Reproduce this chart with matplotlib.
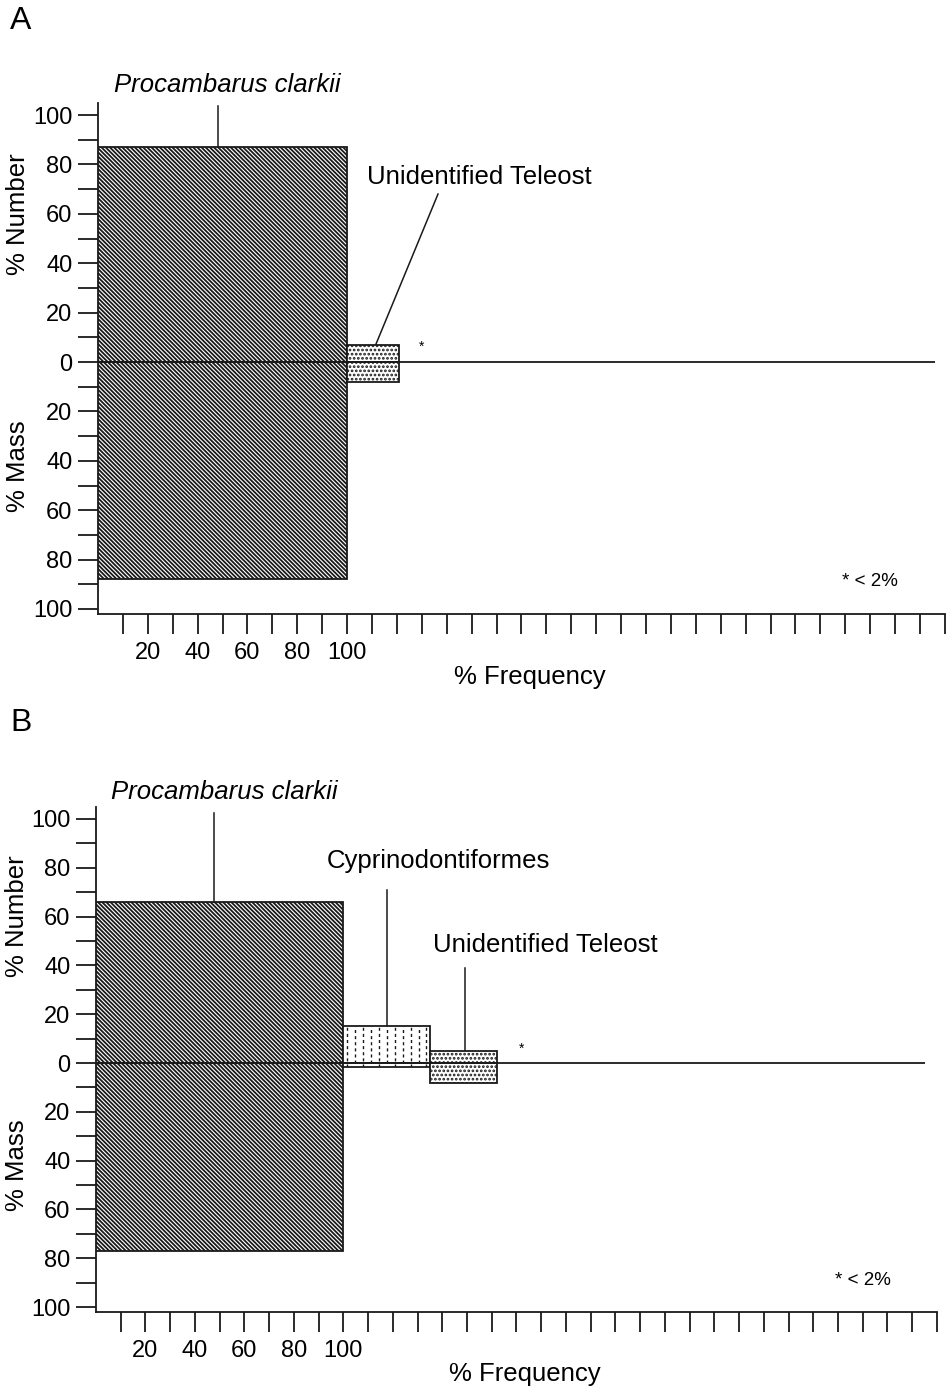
import matplotlib
matplotlib.use("Agg")
import matplotlib.pyplot as plt
import numpy as np

plt.rcParams['font.family'] = ['Liberation Sans', 'DejaVu Sans']
plt.rcParams['hatch.linewidth'] = 1.3

# Panel A values
prey_a = ['Procambarus clarkii', 'Unidentified Teleost']
freq_a = [100, 21]
number_a = [87, 7]
mass_a = [88, 8]
label_xy_a = [(52, 112), (153, 75)]
leader_a = [(48, 103.5, 48), (136.5, 68, 111.5)]   # x top, y top, x at bar
star_a = (130, 6)

# Panel B values
prey_b = ['Procambarus clarkii', 'Cyprinodontiformes', 'Unidentified Teleost']
freq_b = [100, 35, 27]
number_b = [66, 15, 5]
mass_b = [77, 1.5, 8]
label_xy_b = [(52, 111), (138.5, 82.6), (181.8, 48.3)]
leader_b = [(47.8, 102.6, 47.8), (117.8, 70.7, 117.8), (149, 38.9, 149)]
star_b = (172, 6)

note_xy = (310, -89)
xtick_vals = list(range(10, 341, 10))
xtick_labeled = [20, 40, 60, 80, 100]
ytick_vals = list(range(-100, 101, 10))

hatches = {'Procambarus clarkii': '\\' * 8,
           'Cyprinodontiformes': '',
           'Unidentified Teleost': '....'}

INK = '#1a1a1a'


def draw_panel(ax, prey, freq, number, mass, label_xy, leaders, star, zero_end):
    left = np.concatenate([[0], np.cumsum(freq)[:-1]])
    for i, name in enumerate(prey):
        for h in (number[i], -mass[i]):
            bar = ax.bar(left[i], h, freq[i], align='edge', facecolor='white',
                         edgecolor=INK, linewidth=1.3, hatch=hatches[name], zorder=3)
            if name == 'Cyprinodontiformes':
                # dashed vertical fill, clipped to the bar
                cols = np.arange(left[i] + 1.6, left[i] + freq[i], 3.2)
                for k, cx in enumerate(cols):
                    ln = ax.vlines(cx, -mass[i], number[i], colors=INK, linewidth=1.0,
                                   linestyles=[(1.6 * (k % 2), (2.2, 2.2))], zorder=3)
                    ln.set_clip_path(bar.patches[0])
        lx, ly = label_xy[i]
        style = 'italic' if name == 'Procambarus clarkii' else 'normal'
        ax.text(lx, ly, name, ha='center', va='center', fontsize=18.5,
                style=style, clip_on=False)
        xt, yt, xb = leaders[i]
        ax.plot([xt, xb], [yt, number[i]], color=INK, linewidth=1.1,
                clip_on=False, zorder=2)

    ax.hlines(0, 0, zero_end, color=INK, linewidth=1.3, zorder=4)
    ax.text(star[0], star[1], '*', ha='center', va='center', fontsize=10)
    ax.text(note_xy[0], note_xy[1], '* < 2%', ha='center', va='center', fontsize=13.5)

    ax.set_xlim(0, 340)
    ax.set_ylim(-102, 105)
    for s in ('top', 'right'):
        ax.spines[s].set_visible(False)
    for s in ('left', 'bottom'):
        ax.spines[s].set_linewidth(1.3)
        ax.spines[s].set_color(INK)

    ax.set_xticks(xtick_vals)
    ax.set_xticklabels([str(v) if v in xtick_labeled else '' for v in xtick_vals])
    ax.set_yticks(ytick_vals)
    ax.set_yticklabels([str(abs(v)) if v % 20 == 0 else '' for v in ytick_vals])
    ax.tick_params(axis='both', direction='out', length=14.5, width=1.3,
                   color=INK, labelsize=17)
    ax.tick_params(axis='y', pad=4)
    ax.tick_params(axis='x', pad=6)

    tr = ax.get_yaxis_transform()
    ax.text(-0.094, 60, '% Number', rotation=90, ha='center', va='center',
            fontsize=18.5, transform=tr)
    ax.text(-0.094, -42, '% Mass', rotation=90, ha='center', va='center',
            fontsize=18.5, transform=tr)
    ax.text(0.51, -0.123, '% Frequency', ha='center', va='center',
            fontsize=18.5, transform=ax.transAxes)


fig = plt.figure(figsize=(9.52, 13.95), dpi=100)
ax_a = fig.add_axes([0.1029, 0.5599, 0.8897, 0.3665])
ax_b = fig.add_axes([0.1008, 0.0595, 0.8834, 0.3622])

draw_panel(ax_a, prey_a, freq_a, number_a, mass_a, label_xy_a, leader_a, star_a, 336)
draw_panel(ax_b, prey_b, freq_b, number_b, mass_b, label_xy_b, leader_b, star_b, 335)

fig.text(10 / 952, 1 - 6 / 1395, 'A', ha='left', va='top', fontsize=23)
fig.text(10 / 952, 1 - 708 / 1395, 'B', ha='left', va='top', fontsize=23)

fig.savefig('out.png', dpi=100)
